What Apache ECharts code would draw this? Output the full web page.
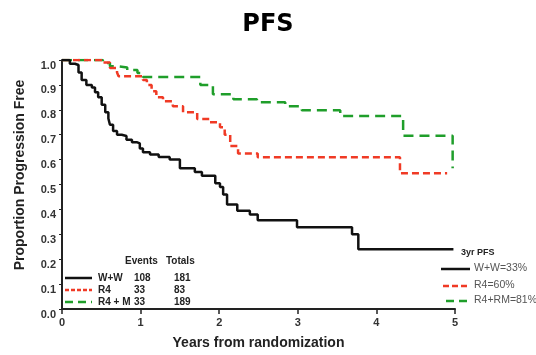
<!DOCTYPE html>
<html>
<head>
<meta charset="utf-8">
<script src="https://cdn.jsdelivr.net/npm/echarts@6/dist/echarts.min.js"></script>
<style>html,body{margin:0;padding:0;background:#fff}#c{width:536px;height:355px}</style>
</head>
<body>
<div id="c"></div>
<script>
// Kaplan-Meier step points: [years, proportion] (value after drop)
const wwCurve = [[0,1.0],[0.06,1.0],[0.10,0.985],[0.165,0.98],[0.21,0.95],[0.25,0.92],[0.31,0.90],[0.38,0.89],[0.42,0.87],[0.46,0.85],[0.505,0.82],[0.55,0.79],[0.59,0.765],[0.61,0.74],[0.65,0.715],[0.70,0.70],[0.76,0.695],[0.82,0.68],[0.89,0.67],[0.95,0.665],[0.99,0.645],[1.03,0.63],[1.12,0.62],[1.23,0.61],[1.37,0.60],[1.50,0.565],[1.69,0.55],[1.78,0.535],[1.95,0.505],[2.01,0.49],[2.05,0.46],[2.10,0.42],[2.23,0.395],[2.39,0.38],[2.49,0.356],[2.99,0.328],[3.69,0.30],[3.77,0.24],[4.98,0.24]];
const r4Curve = [[0,1.0],[0.45,1.0],[0.52,0.99],[0.61,0.968],[0.70,0.95],[0.72,0.935],[1.03,0.935],[1.03,0.92],[1.08,0.90],[1.14,0.875],[1.20,0.85],[1.285,0.834],[1.41,0.814],[1.54,0.79],[1.72,0.763],[1.88,0.75],[2.01,0.73],[2.07,0.70],[2.14,0.655],[2.24,0.625],[2.49,0.609],[4.30,0.545],[4.90,0.545]];
const rmCurve = [[0,1.0],[0.40,1.0],[0.52,0.988],[0.61,0.975],[0.70,0.97],[0.83,0.96],[0.96,0.948],[1.03,0.932],[1.59,0.932],[1.76,0.90],[1.92,0.862],[2.18,0.842],[2.48,0.83],[2.84,0.814],[3.05,0.798],[3.54,0.775],[4.34,0.696],[4.97,0.696],[4.97,0.565]];
const xTicks = [0,1,2,3,4,5];
const yTicks = [0,0.1,0.2,0.3,0.4,0.5,0.6,0.7,0.8,0.9,1.0];
const groupNames = ['W+W','R4','R4 + M'];
const groupEvents = [108,33,33];
const groupTotals = [181,83,189];
const pfsLabels = ['W+W=33%','R4=60%','R4+RM=81%'];

const colors = ['#111111','#f03a25','#1f9e2a'];
const dashes = ['solid',[7,4],[10,6]];
const F = 'Liberation Sans, Arial, sans-serif';

const chart = echarts.init(document.getElementById('c'));
const graphics = [];
// left legend
graphics.push({type:'text',left:125,top:256,style:{text:'Events',font:'bold 10px '+F,fill:'#222'}});
graphics.push({type:'text',left:166,top:256,style:{text:'Totals',font:'bold 10px '+F,fill:'#222'}});
const rowY = [273,285,297];
for (let i=0;i<3;i++){
  graphics.push({type:'line',shape:{x1:65,y1:rowY[i]+5,x2:92,y2:rowY[i]+5},style:{stroke:colors[i],lineWidth:2.5,lineDash:i===0?null:(i===1?[4,2]:[8,5])}});
  graphics.push({type:'text',left:98,top:rowY[i],style:{text:groupNames[i],font:'bold 10px '+F,fill:'#222'}});
  graphics.push({type:'text',left:134,top:rowY[i],style:{text:String(groupEvents[i]),font:'bold 10px '+F,fill:'#222'}});
  graphics.push({type:'text',left:174,top:rowY[i],style:{text:String(groupTotals[i]),font:'bold 10px '+F,fill:'#222'}});
}
// right legend
graphics.push({type:'text',left:461,top:248,style:{text:'3yr PFS',font:'bold 9px '+F,fill:'#222'}});
const rY = [269,286,301];
const rX = [441,443,446];
for (let i=0;i<3;i++){
  graphics.push({type:'line',shape:{x1:rX[i],y1:rY[i],x2:470,y2:rY[i]},style:{stroke:colors[i],lineWidth:2.5,lineDash:i===0?null:(i===1?[6,3]:[8,5])}});
  graphics.push({type:'text',left:474,top:rY[i]-6,style:{text:pfsLabels[i],font:'10.5px '+F,fill:'#555'}});
}

const mk = (name,data,i)=>({
  name,type:'line',step:'end',data,symbol:'none',
  lineStyle:{color:colors[i],width:2.5,type:dashes[i]},
  z: 3-i
});

chart.setOption({
  animation:false,
  backgroundColor:'#fff',
  title:{text:'PFS',left:'center',top:8,textStyle:{fontFamily:'DejaVu Sans, sans-serif',fontWeight:'bold',fontSize:24,color:'#000'}},
  grid:{left:62,right:81,top:60,bottom:42},
  xAxis:{type:'value',min:0,max:5,interval:1,
    name:'Years from randomization',nameLocation:'middle',nameGap:27,
    nameTextStyle:{fontFamily:F,fontWeight:'bold',fontSize:14,color:'#222'},
    axisLine:{onZero:false,lineStyle:{color:'#222',width:2}},
    axisTick:{length:5,lineStyle:{color:'#222',width:1.5}},
    axisLabel:{margin:8,fontFamily:F,fontWeight:'bold',fontSize:11,color:'#333',formatter:v=>xTicks.includes(v)?String(v):''},
    splitLine:{show:false}},
  yAxis:{type:'value',min:0,max:1,interval:0.1,
    name:'Proportion Progression Free',nameLocation:'middle',nameGap:35,
    nameTextStyle:{fontFamily:F,fontWeight:'bold',fontSize:14,color:'#222',padding:[0,0,0,19]},
    axisLine:{show:true,lineStyle:{color:'#222',width:2}},
    axisTick:{show:true,length:3,lineStyle:{color:'#222'}},
    axisLabel:{margin:6,fontFamily:F,fontWeight:'bold',fontSize:11,color:'#333',verticalAlign:'top',formatter:v=>{const t=yTicks.find(y=>Math.abs(y-v)<1e-6);return t===undefined?'':t.toFixed(1);}},
    splitLine:{show:false}},
  graphic:graphics,
  series:[mk('W+W',wwCurve,0),mk('R4',r4Curve,1),mk('R4 + M',rmCurve,2)]
});
</script>
</body>
</html>
